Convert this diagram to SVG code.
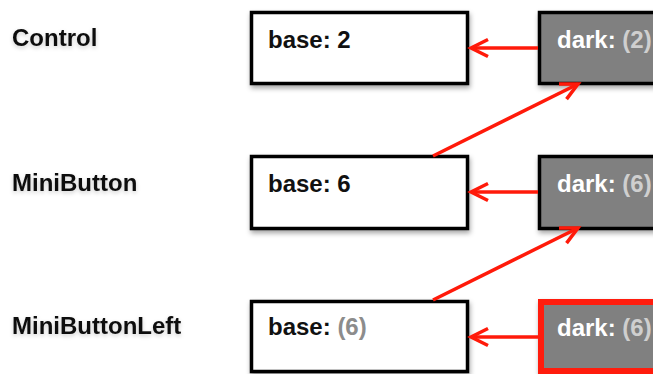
<svg xmlns="http://www.w3.org/2000/svg" width="653" height="374" viewBox="0 0 653 374">
<style>
text{font-family:"Liberation Sans",Arial,Helvetica,sans-serif;font-weight:bold;font-size:24px}
.lbl{fill:#111}
.base{fill:#fff;stroke:#000;stroke-width:3.5}
.dark{fill:#808080;stroke:#000;stroke-width:3.5}
.darkr{fill:#808080;stroke:#ff1a0a;stroke-width:6}
.bt{fill:#111}
.dt{fill:#fff}
.inh{fill:#cfcfcf}
.inhb{fill:#8c8c8c}
.conn{stroke:#ff1a0a;stroke-width:3.5;fill:none;marker-end:url(#ah)}
</style>
<defs>
<filter id="sh" x="-10%" y="-10%" width="130%" height="140%">
<feDropShadow dx="1" dy="3" stdDeviation="2.5" flood-color="#000" flood-opacity="0.35"/>
</filter>
<filter id="ts" x="-10%" y="-30%" width="120%" height="180%">
<feDropShadow dx="0" dy="2" stdDeviation="2" flood-color="#000" flood-opacity="0.2"/>
</filter>
<marker id="ah" markerUnits="userSpaceOnUse" viewBox="-20 -12 24 24" markerWidth="24" markerHeight="24" refX="0" refY="0" orient="auto">
<path d="M-17,-8.5 L0,0 L-17,8.5" fill="none" stroke="#ff1a0a" stroke-width="3.5" stroke-linejoin="miter"/>
</marker>
</defs>
<rect width="653" height="374" fill="#fff"/>
<g id="label-control"><text class="lbl" x="12" y="46" filter="url(#ts)">Control</text></g>
<g id="label-minibutton"><text class="lbl" x="12" y="191" filter="url(#ts)">MiniButton</text></g>
<g id="label-minibuttonleft"><text class="lbl" x="12" y="334" filter="url(#ts)">MiniButtonLeft</text></g>

<g id="base-control"><rect class="base" x="251.5" y="12.5" width="216" height="71" filter="url(#sh)"/><text class="bt" x="268" y="48">base: 2</text></g>
<g id="base-minibutton"><rect class="base" x="251.5" y="156.5" width="216" height="72" filter="url(#sh)"/><text class="bt" x="268" y="192">base: 6</text></g>
<g id="base-minibuttonleft"><rect class="base" x="251.5" y="301.5" width="216" height="70" filter="url(#sh)"/><text class="bt" x="268" y="335">base: <tspan class="inhb">(6)</tspan></text></g>

<g id="dark-control"><rect class="dark" x="539.5" y="12.5" width="130" height="71" filter="url(#sh)"/><text class="dt" x="557" y="48">dark: <tspan class="inh">(2)</tspan></text></g>
<g id="dark-minibutton"><rect class="dark" x="539.5" y="156.5" width="130" height="72" filter="url(#sh)"/><text class="dt" x="557" y="192">dark: <tspan class="inh">(6)</tspan></text></g>
<g id="dark-minibuttonleft"><rect class="darkr" x="541" y="302" width="130" height="69" filter="url(#sh)"/><text class="dt" x="557" y="336">dark: <tspan class="inh">(6)</tspan></text></g>

<g id="connectors">
<path class="conn" d="M538,48 L471,48"/>
<path class="conn" d="M538,192 L471,192"/>
<path class="conn" d="M538,337 L471,337"/>
<path class="conn" d="M433,156 L578,84"/>
<path class="conn" d="M433,300 L578,228"/>
</g>
</svg>
